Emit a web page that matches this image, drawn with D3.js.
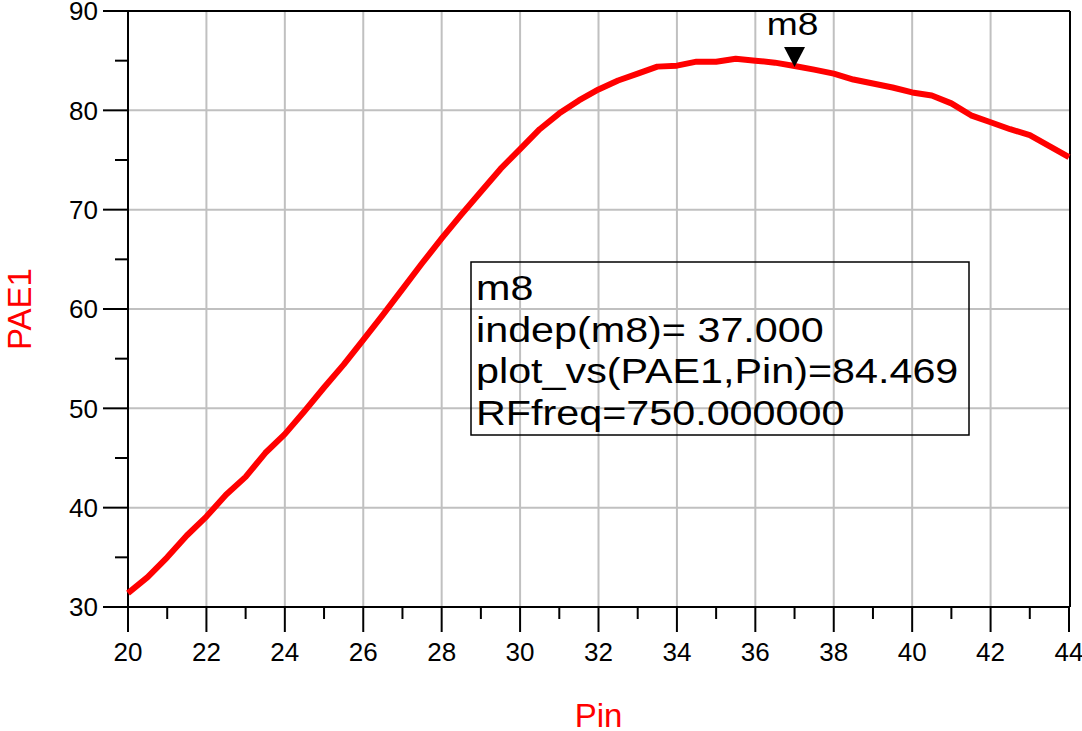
<!DOCTYPE html>
<html>

<head>
  <meta charset="utf-8">
  <script src="https://cdnjs.cloudflare.com/ajax/libs/d3/7.8.5/d3.min.js"></script>
  <style>
    body {
      margin: 0;
      padding: 0;
      background: #fff;
    }

    text {
      font-family: Arial, "Liberation Sans", sans-serif;
    }

    .grid line {
      stroke: #c0c0c0;
      stroke-width: 2px;
    }

    .frame line {
      stroke: #000;
      stroke-width: 2px;
    }

    .line {
      fill: none;
      stroke: #ff0000;
      stroke-width: 6px;
      stroke-linejoin: round;
    }
  </style>
</head>

<body>
  <svg width="1082" height="731"></svg>
  <script>
    //data (Pin step 0.5)
    let pin = [20, 20.5, 21, 21.5, 22, 22.5, 23, 23.5, 24, 24.5, 25, 25.5, 26, 26.5, 27, 27.5, 28, 28.5, 29, 29.5,
      30, 30.5, 31, 31.5, 32, 32.5, 33, 33.5, 34, 34.5, 35, 35.5, 36, 36.5, 37, 37.5, 38, 38.5, 39, 39.5,
      40, 40.5, 41, 41.5, 42, 42.5, 43, 43.5, 44
    ];
    let pae1 = [31.4, 33.0, 35.0, 37.2, 39.1, 41.3, 43.1, 45.5, 47.4, 49.7, 52.1, 54.4, 56.9, 59.4, 62.0, 64.6, 67.1, 69.5, 71.8, 74.1,
      76.1, 78.1, 79.7, 81.0, 82.1, 83.0, 83.7, 84.4, 84.5, 84.9, 84.9, 85.2, 85.0, 84.8, 84.469, 84.1, 83.7, 83.1, 82.7, 82.3,
      81.8, 81.5, 80.7, 79.5, 78.8, 78.1, 77.5, 76.4, 75.3
    ];
    let xMajor = [20, 22, 24, 26, 28, 30, 32, 34, 36, 38, 40, 42, 44];
    let xMinor = [21, 23, 25, 27, 29, 31, 33, 35, 37, 39, 41, 43];
    let yMajor = [30, 40, 50, 60, 70, 80, 90];
    let yMinor = [35, 45, 55, 65, 75, 85];
    let markerName = "m8";
    let markerX = 37;
    let markerY = 84.469;
    let markerLines = ["m8", "indep(m8)= 37.000", "plot_vs(PAE1,Pin)=84.469", "RFfreq=750.000000"];

    let svg = d3.select("svg"),
      pLeft = 128,
      pRight = 1069,
      pTop = 11,
      pBottom = 607;

    //scales
    let x = d3.scaleLinear().domain([20, 44]).range([pLeft, pRight]),
      y = d3.scaleLinear().domain([30, 90]).range([pBottom, pTop]);

    //grid
    let grid = svg.append("g").attr("class", "grid");
    grid.selectAll(".gx")
      .data(xMajor.slice(1, -1))
      .enter().append("line")
      .attr("x1", d => x(d)).attr("x2", d => x(d))
      .attr("y1", pTop).attr("y2", pBottom);
    grid.selectAll(".gy")
      .data(yMajor.slice(1, -1))
      .enter().append("line")
      .attr("x1", pLeft).attr("x2", pRight)
      .attr("y1", d => y(d)).attr("y2", d => y(d));

    //frame and ticks
    let frame = svg.append("g").attr("class", "frame");
    frame.append("line").attr("x1", pLeft).attr("x2", pRight + 1).attr("y1", pTop).attr("y2", pTop);
    frame.append("line").attr("x1", pLeft).attr("x2", pRight + 1).attr("y1", pBottom).attr("y2", pBottom);
    frame.append("line").attr("x1", pLeft).attr("x2", pLeft).attr("y1", pTop).attr("y2", pBottom);
    frame.append("line").attr("x1", pRight + 1).attr("x2", pRight + 1).attr("y1", pTop).attr("y2", pBottom);

    frame.selectAll(".tx")
      .data(xMajor)
      .enter().append("line")
      .attr("x1", d => x(d)).attr("x2", d => x(d))
      .attr("y1", pBottom).attr("y2", pBottom + 25);
    frame.selectAll(".tmx")
      .data(xMinor)
      .enter().append("line")
      .attr("x1", d => x(d)).attr("x2", d => x(d))
      .attr("y1", pBottom).attr("y2", pBottom + 12);
    frame.selectAll(".ty")
      .data(yMajor)
      .enter().append("line")
      .attr("x1", pLeft - 25).attr("x2", pLeft)
      .attr("y1", d => y(d)).attr("y2", d => y(d));
    frame.selectAll(".tmy")
      .data(yMinor)
      .enter().append("line")
      .attr("x1", pLeft - 13).attr("x2", pLeft)
      .attr("y1", d => y(d)).attr("y2", d => y(d));

    //tick labels
    svg.append("g").selectAll("text")
      .data(xMajor)
      .enter().append("text")
      .attr("x", d => x(d))
      .attr("y", 661)
      .attr("text-anchor", "middle")
      .style("font-size", "26px")
      .text(d => d);
    svg.append("g").selectAll("text")
      .data(yMajor)
      .enter().append("text")
      .attr("x", 98)
      .attr("y", d => y(d))
      .attr("dy", "0.36em")
      .attr("text-anchor", "end")
      .style("font-size", "26px")
      .text(d => d);

    //axis titles
    svg.append("text")
      .attr("x", (pLeft + pRight) / 2)
      .attr("y", 727)
      .attr("text-anchor", "middle")
      .attr("fill", "#ff0000")
      .style("font-size", "33px")
      .text("Pin");
    svg.append("text")
      .attr("transform", "translate(31," + (pTop + pBottom) / 2 + ") rotate(-90)")
      .attr("text-anchor", "middle")
      .attr("fill", "#ff0000")
      .style("font-size", "33px")
      .text("PAE1");

    //curve
    let line = d3.line()
      .x(d => x(d[0]))
      .y(d => y(d[1]));
    svg.append("path")
      .attr("class", "line")
      .attr("d", line(d3.zip(pin, pae1)));

    //marker
    let mx = x(markerX),
      my = y(markerY);
    svg.append("path")
      .attr("d", "M" + mx + "," + (my + 1) + "L" + (mx - 10.5) + "," + (my - 19) + "L" + (mx + 10.5) + "," + (my - 19) + "Z")
      .attr("fill", "#000");
    svg.append("text")
      .attr("transform", "translate(" + (mx - 2) + ",35) scale(1.2,1)")
      .attr("text-anchor", "middle")
      .style("font-size", "31px")
      .text(markerName);

    //marker readout box
    svg.append("rect")
      .attr("x", 471).attr("y", 262)
      .attr("width", 498).attr("height", 173)
      .attr("fill", "none")
      .attr("stroke", "#000")
      .attr("stroke-width", 1.5);
    let baselines = [300, 342, 383, 425];
    svg.append("g").selectAll("text")
      .data(markerLines)
      .enter().append("text")
      .attr("transform", (d, i) => "translate(476," + baselines[i] + ") scale(1.18,1)")
      .style("font-size", "35px")
      .text(d => d);
  </script>
</body>

</html>
